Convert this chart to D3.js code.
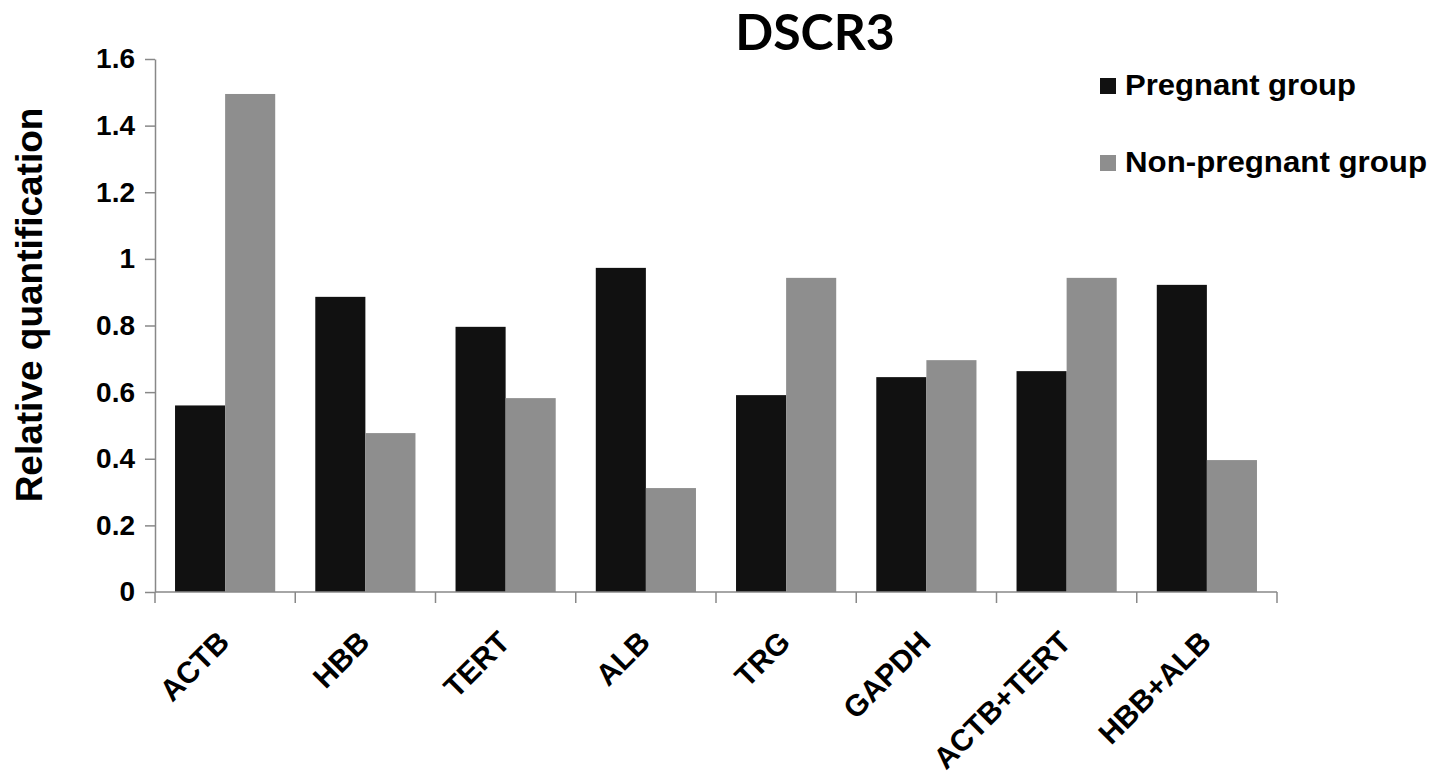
<!DOCTYPE html>
<html>
  <head>
    <meta charset="utf-8" />
    <script src="https://d3js.org/d3.v7.min.js"></script>
    <title>DSCR3</title>
    <style>
      body {
        margin: 0px;
        overflow: hidden;
        background: white;
      }
      svg {
        display: block;
        font-family: 'Liberation Sans', Arial, sans-serif;
        font-weight: bold;
      }
      text {
        fill: #000;
      }
      .tick text {
        font-size: 28px;
      }
      .xlabel {
        font-size: 30px;
      }
      .ylabel {
        font-size: 37px;
      }
      .title {
        font-family: Lato, 'Open Sans', sans-serif;
        font-size: 50px;
      }
      .legend-text {
        font-size: 29px;
      }
      .axis path,
      .axis line {
        stroke: #888;
        stroke-width: 1.5;
      }
    </style>
  </head>
  <body>
    <script>
      const categories = ['ACTB', 'HBB', 'TERT', 'ALB', 'TRG', 'GAPDH', 'ACTB+TERT', 'HBB+ALB'];
      const seriesNames = ['Pregnant group', 'Non-pregnant group'];
      const pregnant = [0.56, 0.886, 0.796, 0.973, 0.591, 0.645, 0.663, 0.922];
      const nonPregnant = [1.495, 0.477, 0.582, 0.312, 0.943, 0.696, 0.943, 0.396];
      const yTicks = [0, 0.2, 0.4, 0.6, 0.8, 1, 1.2, 1.4, 1.6];
      const colors = ['#111111', '#8e8e8e'];

      const width = 1441;
      const height = 778;
      const margin = { left: 155, right: 164, top: 59, bottom: 186 };
      const innerWidth = width - margin.left - margin.right;
      const innerHeight = height - margin.top - margin.bottom;

      const data = categories.map((c, i) => ({
        category: c,
        values: [pregnant[i], nonPregnant[i]],
      }));

      const svg = d3.select('body').append('svg')
        .attr('width', width)
        .attr('height', height);

      const g = svg.append('g')
        .attr('transform', `translate(${margin.left},${margin.top})`);

      const xScale = d3.scaleBand()
        .domain(categories)
        .range([0, innerWidth]);

      const x1 = d3.scaleBand()
        .domain(d3.range(seriesNames.length))
        .range([0, xScale.bandwidth()])
        .paddingOuter(0.4);

      const yScale = d3.scaleLinear()
        .domain([0, 1.6])
        .range([innerHeight, 0]);

      // bars
      const groups = g.selectAll('.group').data(data)
        .enter().append('g')
        .attr('class', 'group')
        .attr('transform', (d) => `translate(${xScale(d.category)},0)`);

      groups.selectAll('rect')
        .data((d) => d.values)
        .enter().append('rect')
        .attr('x', (d, i) => x1(i))
        .attr('width', x1.bandwidth())
        .attr('y', (d) => yScale(d))
        .attr('height', (d) => innerHeight - yScale(d))
        .attr('fill', (d, i) => colors[i]);

      // y axis
      g.append('g')
        .attr('class', 'axis')
        .call(d3.axisLeft(yScale)
          .tickValues(yTicks)
          .tickFormat(d3.format('~g'))
          .tickSize(10)
          .tickSizeOuter(0)
          .tickPadding(10))
        .attr('font-size', null)
        .attr('font-family', null);

      // x axis: line plus ticks on band boundaries
      const xAxisG = g.append('g')
        .attr('class', 'axis')
        .attr('transform', `translate(0,${innerHeight})`);
      xAxisG.append('path')
        .attr('d', `M0,0H${innerWidth}`)
        .attr('fill', 'none');
      const boundaries = categories.map((c) => xScale(c)).concat([innerWidth]);
      xAxisG.selectAll('.btick').data(boundaries)
        .enter().append('line')
        .attr('class', 'btick')
        .attr('x1', (d) => d)
        .attr('x2', (d) => d)
        .attr('y1', 0)
        .attr('y2', 11);

      g.selectAll('.xlabel').data(categories)
        .enter().append('text')
        .attr('class', 'xlabel')
        .attr('text-anchor', 'end')
        .attr('transform', (d) =>
          `translate(${xScale(d) + xScale.bandwidth() / 2 + 6},${innerHeight + 52}) rotate(-45)`)
        .text((d) => d);

      // axis title
      svg.append('text')
        .attr('class', 'ylabel')
        .attr('transform', 'translate(42,305) rotate(-90)')
        .attr('text-anchor', 'middle')
        .text('Relative quantification');

      // chart title
      svg.append('text')
        .attr('class', 'title')
        .attr('x', 815)
        .attr('y', 50)
        .attr('text-anchor', 'middle')
        .text('DSCR3');

      // legend
      const legend = svg.append('g')
        .attr('transform', 'translate(1100,78)');
      const items = legend.selectAll('.item').data(seriesNames)
        .enter().append('g')
        .attr('class', 'item')
        .attr('transform', (d, i) => `translate(0,${i * 77})`);
      items.append('rect')
        .attr('width', 16)
        .attr('height', 16)
        .attr('fill', (d, i) => colors[i]);
      items.append('text')
        .attr('class', 'legend-text')
        .attr('x', 25)
        .attr('y', 17)
        .attr('textLength', 302)
        .attr('lengthAdjust', 'spacingAndGlyphs')
        .attr('textLength', (d, i) => (i === 0 ? 231 : 302))
        .text((d) => d);
    </script>
  </body>
</html>
